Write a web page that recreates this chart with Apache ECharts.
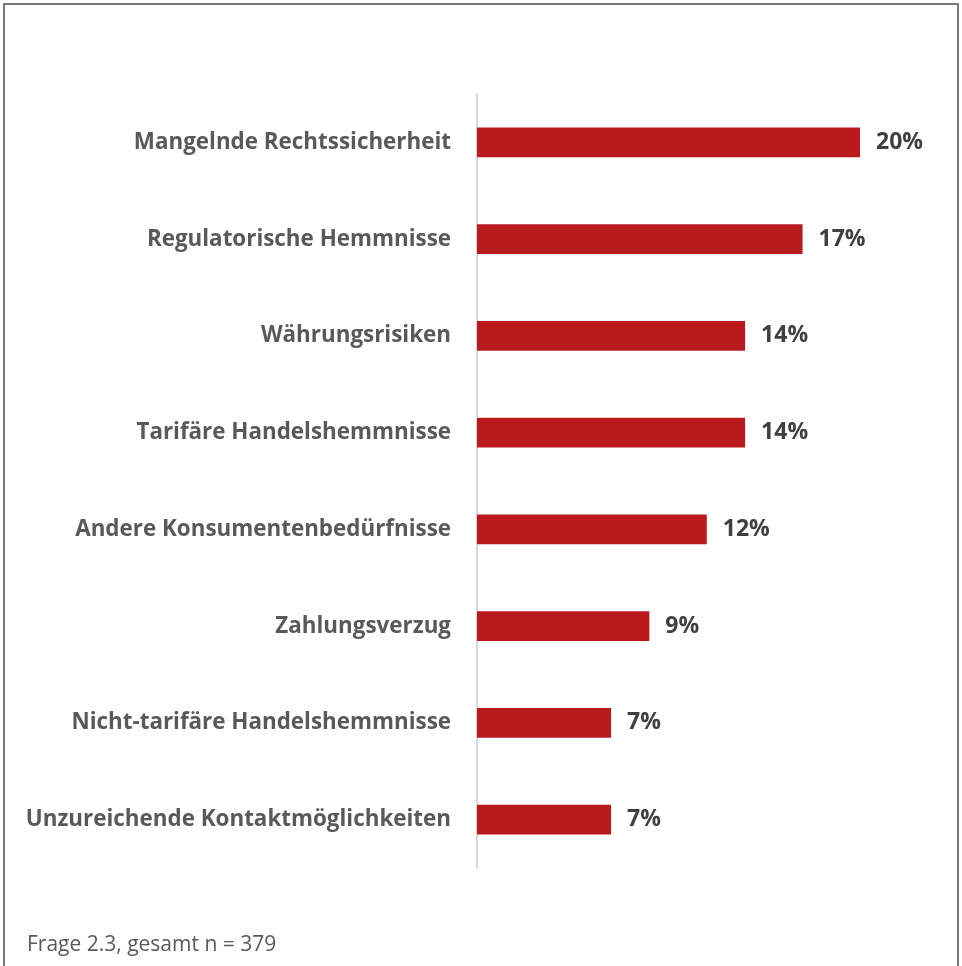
<!DOCTYPE html>
<html>
<head>
<meta charset="utf-8">
<script src="https://cdn.jsdelivr.net/npm/echarts@6/dist/echarts.min.js"></script>
<style>
  html, body { margin: 0; padding: 0; background: #ffffff; }
  #chart { width: 962px; height: 966px; }
</style>
</head>
<body>
<div id="chart"></div>
<script>
// Hindernisse im Auslandsgeschäft (Anteil der Nennungen, %)
const categories = [
  'Mangelnde Rechtssicherheit',
  'Regulatorische Hemmnisse',
  'Währungsrisiken',
  'Tarifäre Handelshemmnisse',
  'Andere Konsumentenbedürfnisse',
  'Zahlungsverzug',
  'Nicht-tarifäre Handelshemmnisse',
  'Unzureichende Kontaktmöglichkeiten'
];
const shares = [20, 17, 14, 14, 12, 9, 7, 7];
const footnote = 'Frage 2.3, gesamt n = 379';

const FONT = '"Open Sans", "Noto Sans", sans-serif';

const chart = echarts.init(document.getElementById('chart'), null, { renderer: 'canvas' });

chart.setOption({
  animation: false,
  backgroundColor: '#ffffff',
  grid: { left: 477, top: 94, right: 102, bottom: 98, containLabel: false },
  xAxis: {
    type: 'value',
    min: 0,
    max: 20,
    show: false
  },
  yAxis: {
    type: 'category',
    inverse: true,
    data: categories,
    axisLine: { show: true, lineStyle: { color: '#d9d9d9', width: 2 } },
    axisTick: { show: false },
    axisLabel: {
      margin: 26,
      color: '#595959',
      fontFamily: FONT,
      fontWeight: 'bold',
      fontSize: 22.4,
      padding: [3, 0, 0, 0]
    }
  },
  series: [{
    type: 'bar',
    data: shares,
    barCategoryGap: '69%',
    itemStyle: { color: '#b91a1c' },
    label: {
      show: true,
      position: 'right',
      distance: 16,
      color: '#404040',
      fontFamily: FONT,
      fontWeight: 'bold',
      fontSize: 23,
      padding: [3, 0, 0, 0],
      formatter: p => p.value + '%'
    }
  }],
  graphic: [
    {
      type: 'rect',
      shape: { x: 4, y: 4, width: 954, height: 1000 },
      style: { fill: 'none', stroke: '#7a7a7a', lineWidth: 2 },
      silent: true
    },
    {
      type: 'text',
      left: 27,
      top: 935,
      style: {
        text: footnote,
        fill: '#595959',
        font: '21px ' + FONT
      }
    }
  ]
});
</script>
</body>
</html>
